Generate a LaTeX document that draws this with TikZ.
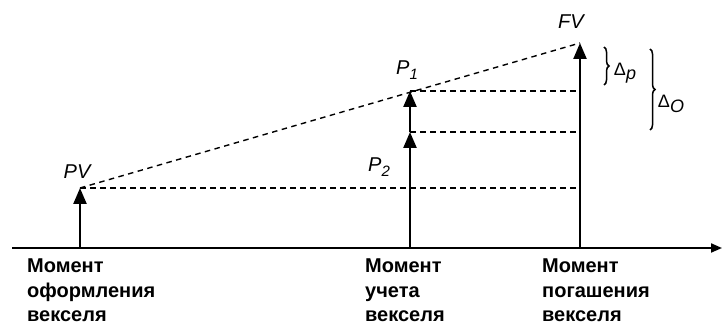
\documentclass[tikz,border=0pt]{standalone}
\usepackage{fontspec}
\setmainfont{Liberation Sans}
\usetikzlibrary{arrows.meta,decorations.pathreplacing}

\newcommand{\lowsub}[2]{\textit{#1}\raisebox{-0.45ex}{\fontsize{15}{15}\selectfont\textit{#2}}}

\begin{document}
\begin{tikzpicture}[x=1pt,y=1pt,
    vec/.style={line width=2.3pt,-{Triangle[length=16pt,width=13pt]}},
    guide/.style={line width=1.4pt,dash pattern=on 5.5pt off 4.5pt},
    lbl/.style={font=\fontsize{20}{20}\selectfont\itshape,inner sep=0},
    caption/.style={font=\fontsize{20}{24.5}\selectfont\bfseries,align=left,anchor=north west,inner sep=0},
    dlt/.style={font=\fontsize{18}{18}\selectfont,inner sep=0},
    brc/.style={line width=1.5pt,decorate,decoration={brace,amplitude=5pt}}]
    \useasboundingbox (0,0) rectangle (723,326);

    % Time axis
    \coordinate (o) at (12,78);
    \coordinate (t) at (722,78);
    \draw[line width=2pt,-{Triangle[length=11pt,width=9pt]}] (o) -- (t);

    % Points on the axis
    \coordinate (pvb) at (80,78);
    \coordinate (pv) at (80,138);
    \coordinate (pb) at (410,78);
    \coordinate (p2) at (410,194);
    \coordinate (p1) at (410,235);
    \coordinate (fvb) at (580,78);
    \coordinate (fv) at (580,283);

    % Values
    \draw[vec] (pvb) -- (pv);
    \draw[vec] (pb) -- (p2);
    \draw[vec] (p2) -- (p1);
    \draw[vec] (fvb) -- (fv);

    % Growth line and levels
    \draw[guide] (pv) -- (fv);
    \draw[guide] (pv) -- (pv -| fv);
    \draw[guide] (p2) -- (p2 -| fv);
    \draw[guide] (p1) -- (p1 -| fv);

    % Labels
    \node[lbl] (pvl) at (77,154) {PV};
    \node[lbl] (p1l) at (407,256) {\lowsub{P}{1}};
    \node[lbl] (p2l) at (379,159) {\lowsub{P}{2}};
    \node[lbl] (fvl) at (571,304) {FV};

    % Discounts
    \draw[brc] (604,279) -- (604,241);
    \node[dlt] (dp) at (625,253) {Δ\raisebox{-0.45ex}{\textit{p}}};
    \draw[brc] (650,277) -- (650,196);
    \node[dlt] (do) at (671,222) {Δ\raisebox{-0.45ex}{\textit{O}}};

    % Moments
    \node[caption] (c1) at (27,67) {Момент\\оформления\\векселя};
    \node[caption] (c2) at (365,67) {Момент\\учета\\векселя};
    \node[caption] (c3) at (542,67) {Момент\\погашения\\векселя};
\end{tikzpicture}
\end{document}
